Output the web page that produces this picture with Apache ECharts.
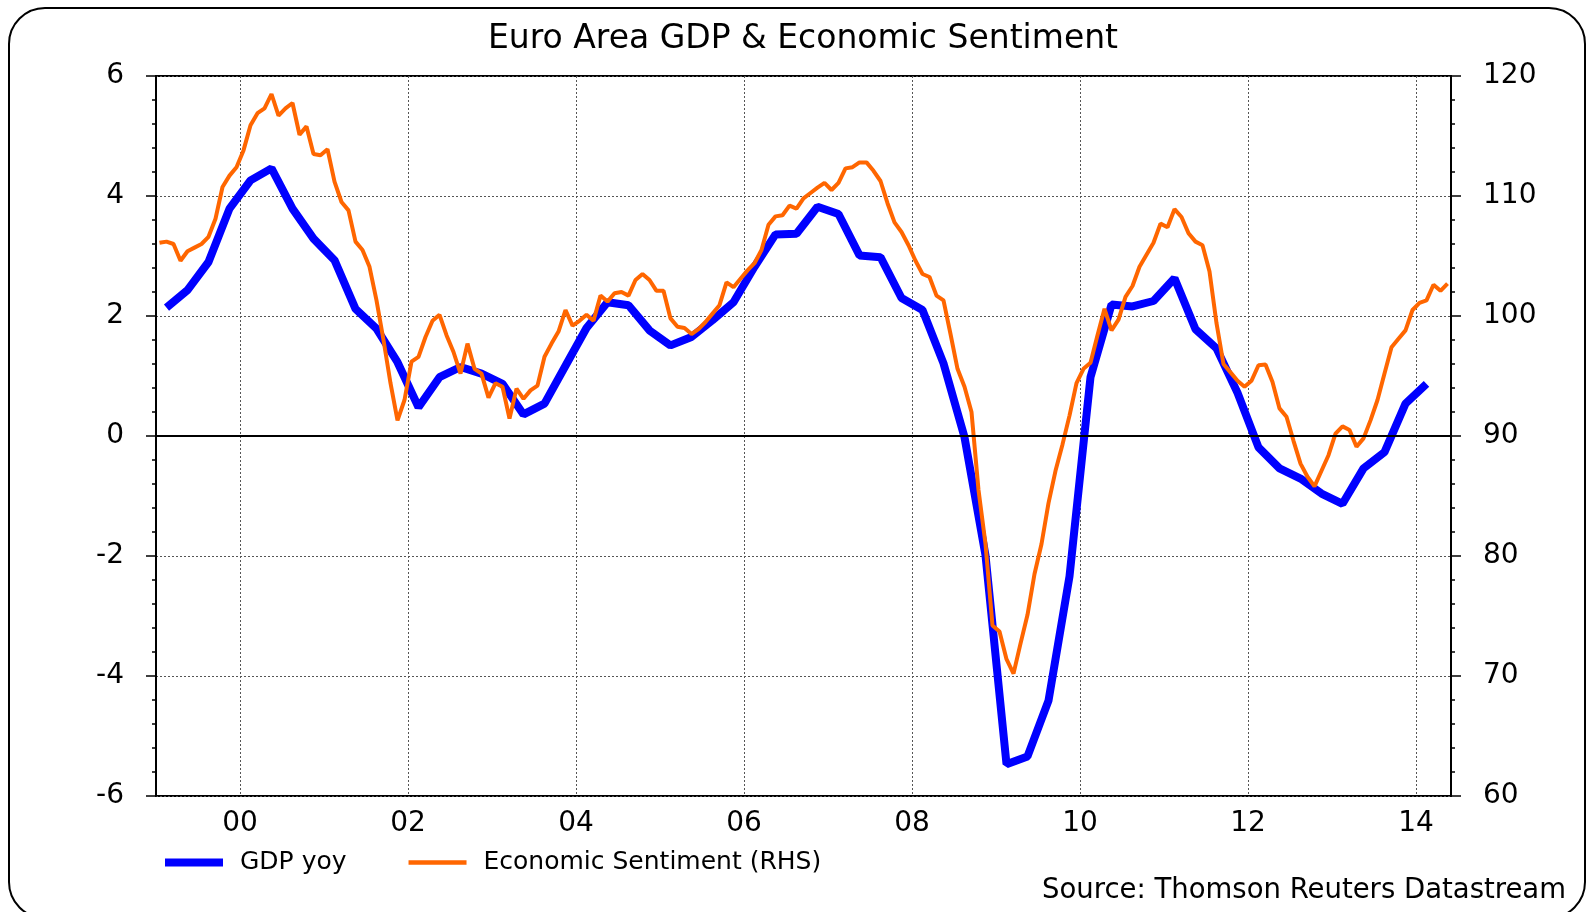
<!DOCTYPE html>
<html>
<head>
<meta charset="utf-8">
<title>Euro Area GDP & Economic Sentiment</title>
<script src="https://cdn.jsdelivr.net/npm/echarts@6/dist/echarts.min.js"></script>
<style>
  html, body { margin: 0; padding: 0; background: #fff; }
  #chart { width: 1587px; height: 912px; }
</style>
</head>
<body>
<div id="chart"></div>
<script>
  // first month shown and number of monthly categories (Jan 1999 .. May 2014)
  const startYear = 1999;
  const monthCount = 185;

  // GDP yoy (%), quarterly, first point Q1 1999 (plotted mid-quarter)
  const gdpYoy = [
    2.14, 2.43, 2.90, 3.79, 4.26, 4.46, 3.79, 3.29, 2.93, 2.12,
    1.79, 1.23, 0.48, 0.98, 1.15, 1.04, 0.87, 0.36, 0.54, 1.17,
    1.80, 2.23, 2.18, 1.76, 1.51, 1.65, 1.93, 2.23, 2.82, 3.36,
    3.37, 3.82, 3.70, 3.01, 2.98, 2.30, 2.10, 1.21, -0.02, -1.99,
    -5.47, -5.34, -4.41, -2.34, 0.98, 2.19, 2.16, 2.25, 2.63, 1.78,
    1.46, 0.72, -0.19, -0.54, -0.71, -0.96, -1.13, -0.54, -0.27, 0.54, 0.87
  ];

  // Economic sentiment indicator, monthly from Jan 1999
  const sentiment = [
    106.1, 106.2, 106.0, 104.6, 105.4, 105.7, 106.0, 106.6, 108.1, 110.75,
    111.7, 112.4, 113.8, 115.9, 116.9, 117.3, 118.5, 116.7, 117.3, 117.75,
    115.1, 115.8, 113.5, 113.4, 113.9, 111.2, 109.5, 108.8, 106.2, 105.5,
    104.1, 101.3, 98.0, 94.4, 91.3, 93.0, 96.2, 96.6, 98.25, 99.6,
    100.1, 98.4, 97.0, 95.2, 97.7, 95.6, 95.2, 93.2, 94.4, 94.1,
    91.45, 93.95, 93.1, 93.8, 94.2, 96.6, 97.7, 98.7, 100.5, 99.2,
    99.6, 100.1, 99.6, 101.7, 101.2, 101.9, 102.0, 101.7, 103.0, 103.5,
    103.0, 102.1, 102.1, 99.8, 99.1, 99.0, 98.5, 98.9, 99.5, 100.2,
    100.9, 102.8, 102.4, 103.1, 103.8, 104.4, 105.5, 107.6, 108.3, 108.4,
    109.2, 108.95, 109.8, 110.25, 110.7, 111.1, 110.5, 111.1, 112.3, 112.4,
    112.8, 112.8, 112.1, 111.25, 109.4, 107.8, 107.0, 105.9, 104.6, 103.5,
    103.25, 101.7, 101.3, 98.5, 95.6, 94.1, 92.0, 85.5, 81.0, 74.2,
    73.7, 71.4, 70.2, 72.7, 75.1, 78.5, 81.0, 84.4, 87.1, 89.3,
    91.7, 94.4, 95.6, 96.1, 98.4, 100.6, 98.8, 99.7, 101.6, 102.5,
    104.1, 105.1, 106.1, 107.7, 107.4, 108.9, 108.25, 106.9, 106.2, 105.9,
    103.7, 99.4, 96.0, 95.3, 94.6, 94.1, 94.6, 95.9, 95.95, 94.5,
    92.3, 91.6, 89.6, 87.7, 86.6, 85.8, 87.1, 88.4, 90.2, 90.8,
    90.5, 89.1, 89.8, 91.3, 93.0, 95.2, 97.4, 98.1, 98.8, 100.5,
    101.1, 101.3, 102.6, 102.1, 102.7
  ];

  const leftTicks = { min: -6, max: 6, step: 2 };
  const rightTicks = { min: 60, max: 120, step: 10 };

  // month categories "1999-01" ...
  let months = [];
  for (let i = 0; i < monthCount; i++) {
    let y = startYear + Math.floor(i / 12);
    let m = (i % 12) + 1;
    months.push(y + '-' + (m < 10 ? '0' + m : m));
  }

  // gdp sits in the middle month of each quarter
  let gdpData = gdpYoy.map((v, k) => [months[1 + 3 * k], v]);

  const font = '"DejaVu Sans", sans-serif';
  const isEvenYear = (idx) => (idx - 12) % 24 === 0 && idx >= 12;

  let chart = echarts.init(document.getElementById('chart'));
  chart.setOption({
    animation: false,
    backgroundColor: '#fff',
    grid: {
      left: 156, top: 76, right: 136, bottom: 116,
      show: true, borderColor: '#000', borderWidth: 2
    },
    legend: {
      left: 165, top: 850, padding: 0,
      itemWidth: 58, itemHeight: 14, itemGap: 62,
      textStyle: { fontFamily: font, fontSize: 25, color: '#000', padding: [0, 0, 0, 12] },
      // thick bar for gdp, thinner one for sentiment
      data: [
        { name: 'GDP yoy', icon: 'path://M0,0H58V8H0Z' },
        { name: 'Economic Sentiment (RHS)', icon: 'path://M0,0H60V4.5H0Z' }
      ]
    },
    graphic: [
      {
        type: 'rect', z: -1, silent: true,
        shape: { x: 9, y: 8, width: 1576, height: 910, r: 36 },
        style: { fill: 'none', stroke: '#000', lineWidth: 2 }
      },
      {
        type: 'text', silent: true,
        style: {
          text: 'Euro Area GDP & Economic Sentiment', x: 803, y: 39,
          font: '33px ' + font, fill: '#000', textAlign: 'center', textVerticalAlign: 'middle'
        }
      },
      {
        type: 'text', silent: true,
        style: {
          text: 'Source: Thomson Reuters Datastream', x: 1566, y: 891,
          font: '27.5px ' + font, fill: '#000', textAlign: 'right', textVerticalAlign: 'middle'
        }
      }
    ],
    xAxis: {
      type: 'category',
      data: months,
      boundaryGap: true,
      axisLine: { lineStyle: { color: '#000', width: 2 } },
      axisTick: {
        interval: (idx) => idx % 3 === 0,
        length: 4,
        lineStyle: { color: '#000', width: 1.5 }
      },
      axisLabel: {
        interval: (idx) => isEvenYear(idx),
        formatter: (v) => v.slice(2, 4),
        fontFamily: font, fontSize: 28, color: '#000',
        margin: 14, padding: [0, 7, 0, 0]
      },
      splitLine: {
        show: true,
        interval: (idx) => isEvenYear(idx),
        lineStyle: { color: '#555', width: 1, type: [2, 2] }
      }
    },
    yAxis: [
      {
        type: 'value',
        min: leftTicks.min, max: leftTicks.max, interval: leftTicks.step,
        axisLine: { show: true, lineStyle: { color: '#000', width: 2 } },
        axisTick: { show: true, length: 10, lineStyle: { color: '#000', width: 1.5 } },
        minorTick: { show: true, splitNumber: 5, length: 4, lineStyle: { color: '#000', width: 1.5 } },
        axisLabel: { fontFamily: font, fontSize: 28, color: '#000', margin: 32 },
        splitLine: { show: true, lineStyle: { color: '#555', width: 1, type: [2, 2] } }
      },
      {
        type: 'value',
        position: 'right',
        min: rightTicks.min, max: rightTicks.max, interval: rightTicks.step,
        axisLine: { show: true, lineStyle: { color: '#000', width: 2 } },
        axisTick: { show: true, length: 10, lineStyle: { color: '#000', width: 1.5 } },
        minorTick: { show: true, splitNumber: 5, length: 4, lineStyle: { color: '#000', width: 1.5 } },
        axisLabel: { fontFamily: font, fontSize: 28, color: '#000', margin: 32 },
        splitLine: { show: false }
      }
    ],
    series: [
      {
        name: 'GDP yoy',
        type: 'line',
        yAxisIndex: 0,
        data: gdpData,
        symbol: 'none',
        connectNulls: true,
        lineStyle: { color: '#0000ff', width: 8 },
        itemStyle: { color: '#0000ff' },
        markLine: {
          silent: true, symbol: 'none', label: { show: false },
          lineStyle: { color: '#000', width: 2, type: 'solid' },
          data: [{ yAxis: 0 }]
        }
      },
      {
        name: 'Economic Sentiment (RHS)',
        type: 'line',
        yAxisIndex: 1,
        data: sentiment,
        symbol: 'none',
        lineStyle: { color: '#ff6600', width: 4 },
        itemStyle: { color: '#ff6600' }
      }
    ]
  });
</script>
</body>
</html>
